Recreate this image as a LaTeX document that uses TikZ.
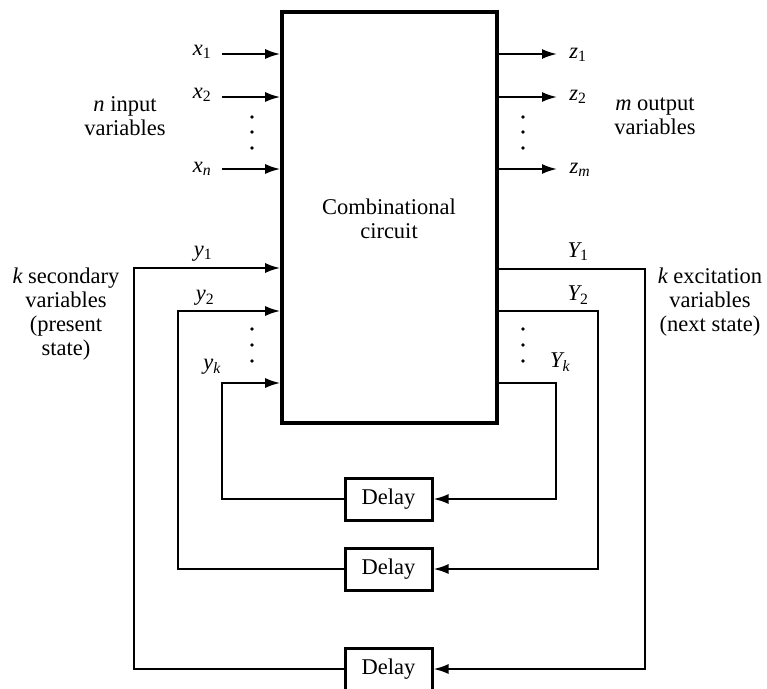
\documentclass[tikz,border=0pt]{standalone}
\usepackage{fontspec}
\setmainfont{Liberation Serif}
\usetikzlibrary{arrows.meta}
\begin{document}
\begin{tikzpicture}[x=1pt,y=-1pt,
  txt/.style={font=\fontsize{22.5}{24}\selectfont, inner sep=0pt, align=center},
  lab/.style={font=\fontsize{22.5}{24}\selectfont\itshape, inner sep=0pt},
  wire/.style={line width=2pt},
  sig/.style={wire, -{Latex[length=15pt,width=10pt]}},
  dotm/.style={circle, fill=black, inner sep=0pt, minimum size=3.6pt},
  delaybox/.style={draw, line width=3pt, minimum width=87pt, minimum height=42pt, inner sep=0pt, font=\fontsize{22.5}{24}\selectfont}]
\useasboundingbox (0,0) rectangle (767,688);
% main block
\node[draw, line width=3.6pt, minimum width=215pt, minimum height=411pt, inner sep=0pt] (cc) at (389.5,217.5) {};
\node[txt] (cctext) at (389,219) {Combinational\\circuit};
% inputs
\coordinate (xa) at (222,54);
\coordinate (xb) at (222,97);
\coordinate (xc) at (222,169);
\draw[sig] (xa) -- (xa -| cc.west);
\draw[sig] (xb) -- (xb -| cc.west);
\draw[sig] (xc) -- (xc -| cc.west);
\node[lab] (lx1) at (202,52) {x\textsubscript{\upshape 1}};
\node[lab] (lx2) at (202,95) {x\textsubscript{\upshape 2}};
\node[lab] (lxn) at (202,169) {x\textsubscript{n}};
\node[dotm] (dxa) at (252,117) {};
\node[dotm] (dxb) at (252,132) {};
\node[dotm] (dxc) at (252,148) {};
\node[txt] (nin) at (125,116) {{\itshape n} input\\variables};
% outputs
\coordinate (za) at (557,54);
\coordinate (zb) at (557,97);
\coordinate (zc) at (557,169);
\draw[sig] (za -| cc.east) -- (za);
\draw[sig] (zb -| cc.east) -- (zb);
\draw[sig] (zc -| cc.east) -- (zc);
\node[lab] (lz1) at (578,55) {z\textsubscript{\upshape 1}};
\node[lab] (lz2) at (578,97) {z\textsubscript{\upshape 2}};
\node[lab] (lzm) at (580,170) {z\textsubscript{m}};
\node[dotm] (dza) at (523,117) {};
\node[dotm] (dzb) at (523,132) {};
\node[dotm] (dzc) at (523,148) {};
\node[txt] (mout) at (655,116) {{\itshape m} output\\variables};
% delay boxes
\node[delaybox] (d1) at (388.5,499) {Delay};
\node[delaybox] (d2) at (388.5,569) {Delay};
\node[delaybox] (d3) at (388.5,669) {Delay};
% secondary (left) lines
\coordinate (la) at (134,268);
\coordinate (lb) at (178,311);
\coordinate (lc) at (222,383);
\draw[sig] (d3.west) -| (la) -- (la -| cc.west);
\draw[sig] (d2.west) -| (lb) -- (lb -| cc.west);
\draw[sig] (d1.west) -| (lc) -- (lc -| cc.west);
\node[lab] (ly1) at (203,254) {y\textsubscript{\upshape 1}};
\node[lab] (ly2) at (205,298) {y\textsubscript{\upshape 2}};
\node[lab] (lyk) at (212,367) {y\textsubscript{k}};
\node[dotm] (dya) at (252,329) {};
\node[dotm] (dyb) at (252,345) {};
\node[dotm] (dyc) at (252,361) {};
\node[txt] (ksec) at (66,314) {{\itshape k} secondary\\variables\\(present\\state)};
% excitation (right) lines
\coordinate (ra) at (645,269);
\coordinate (rb) at (598,311);
\coordinate (rc) at (556,383);
\draw[sig] (ra -| cc.east) -- (ra) |- (d3.east);
\draw[sig] (rb -| cc.east) -- (rb) |- (d2.east);
\draw[sig] (rc -| cc.east) -- (rc) |- (d1.east);
\node[lab] (lY1) at (578,252) {Y\textsubscript{\upshape 1}};
\node[lab] (lY2) at (578,295) {Y\textsubscript{\upshape 2}};
\node[lab] (lYk) at (560,362) {Y\textsubscript{k}};
\node[dotm] (dYa) at (523,329) {};
\node[dotm] (dYb) at (523,345) {};
\node[dotm] (dYc) at (523,361) {};
\node[txt] (kexc) at (710,302) {{\itshape k} excitation\\variables\\(next state)};
\end{tikzpicture}
\end{document}
